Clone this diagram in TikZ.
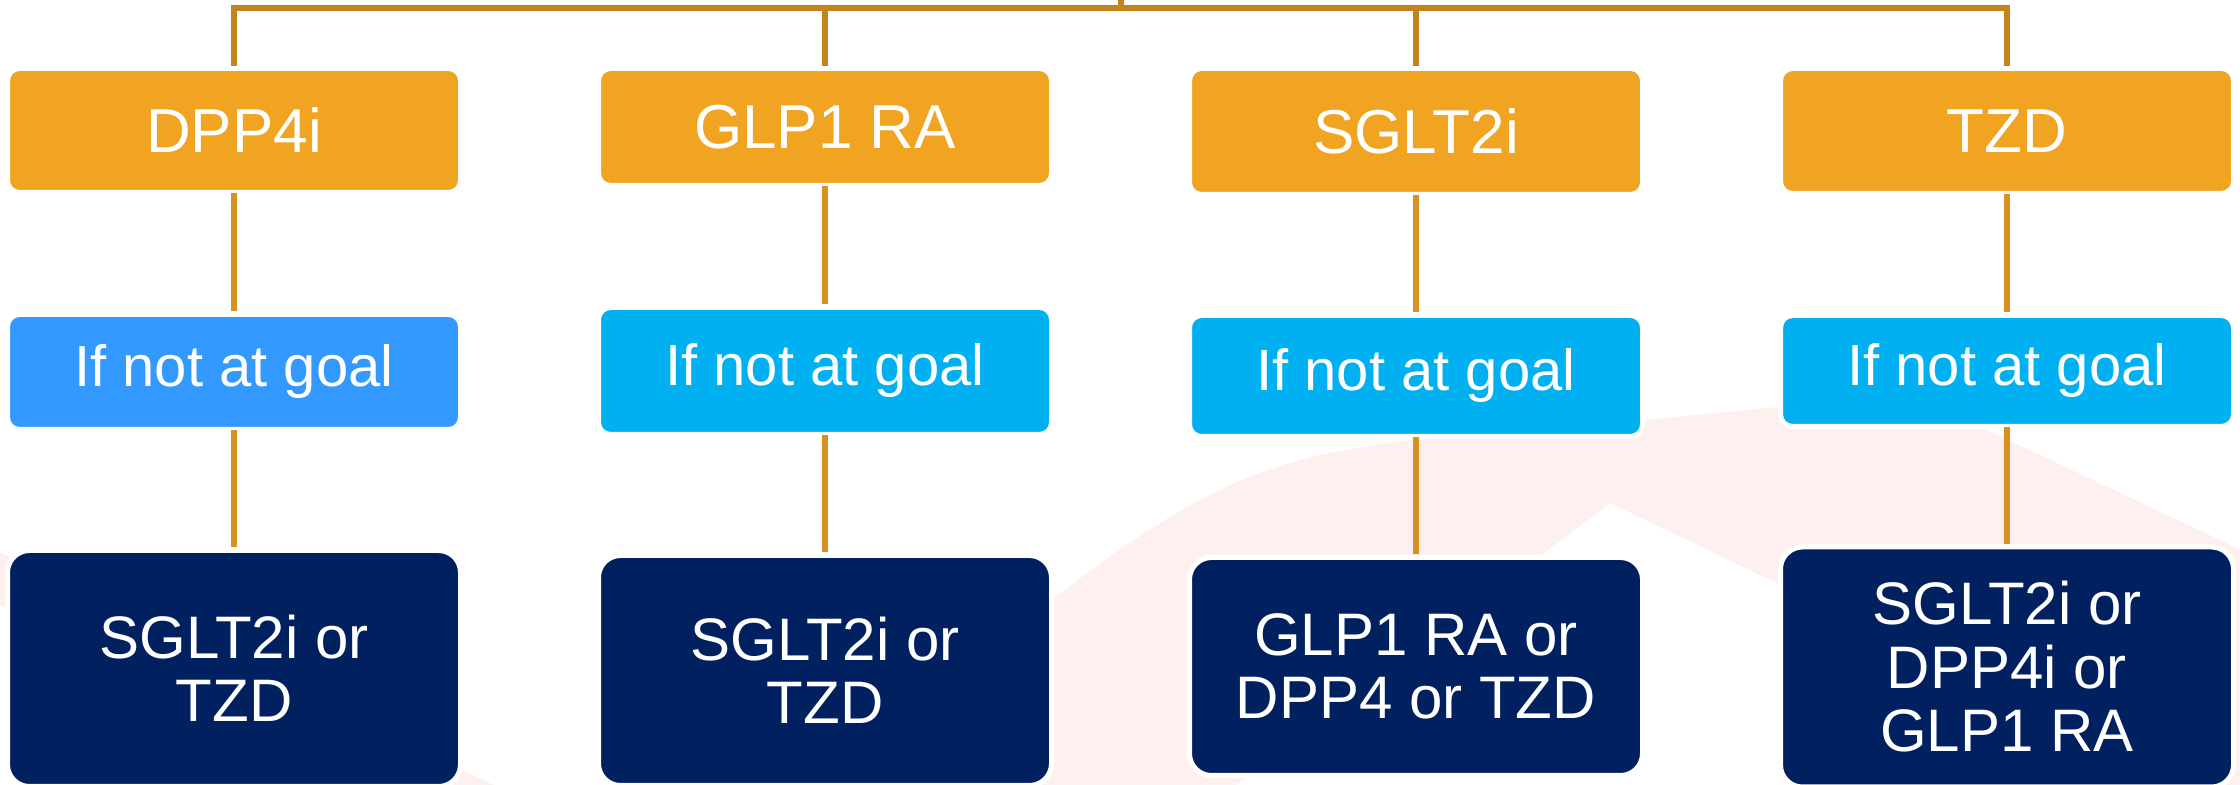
\documentclass[tikz,border=0pt]{standalone}
\usepackage{fontspec}
\setmainfont{Liberation Sans}
\definecolor{orangebox}{HTML}{F0A422}
\definecolor{bluefirst}{HTML}{3399FF}
\definecolor{bluebox}{HTML}{00B0F0}
\definecolor{navybox}{HTML}{002060}
\definecolor{linkcol}{HTML}{D99022}
\definecolor{bracketcol}{HTML}{C4841C}
\definecolor{pinkbg}{HTML}{FDF0EE}
\tikzset{
  box/.style={draw=white, line width=2.5pt, inner sep=0pt, outer sep=0pt,
    text=white, align=center, minimum width=226.5pt},
  drug/.style={box, fill=orangebox, rounded corners=6pt, font=\fontsize{31}{34}\selectfont},
  cond/.style={box, fill=bluebox, rounded corners=6pt, font=\fontsize{29}{32}\selectfont},
  nxt/.style={box, fill=navybox, rounded corners=11pt, font=\fontsize{30}{31.75}\selectfont},
  link/.style={draw=linkcol, line width=2.75pt, shorten <=0.5pt, shorten >=1.5pt},
  bracket/.style={draw=bracketcol, line width=2.75pt}
}
\begin{document}
\begin{tikzpicture}[x=0.5pt, y=-0.5pt]
\useasboundingbox (0,0) rectangle (2240,785);
\begin{scope}
\clip (0,0) rectangle (2240,785);
% faint background arrows
\fill[pinkbg] (820,800) -- (1055,597) .. controls (1150,525) and (1230,470) .. (1346,450)
  .. controls (1450,432) and (1600,422) .. (1645,420) -- (1911,394) -- (2260,559)
  -- (2260,815) -- (1610,503) -- (1216,800) -- cycle;
\fill[pinkbg] (-10,548) -- (530,802) -- (380,802) -- (-10,600) -- cycle;
\end{scope}

% row 1
\node[drug, minimum height=62pt]   (o1) at (234,130.5) {DPP4i};
\node[drug, minimum height=58.5pt] (o2) at (825,127)   {GLP1 RA};
\node[drug, minimum height=63pt]   (o3) at (1416,131.5) {SGLT2i};
\node[drug, minimum height=62.5pt] (o4) at (2007,131)  {TZD};
% row 2
\node[cond, fill=bluefirst, minimum height=57.5pt] (b1) at (234,372) {If not at goal};
\node[cond, minimum height=63.5pt] (b2) at (825,371)  {If not at goal};
\node[cond, minimum height=60.5pt] (b3) at (1416,376) {If not at goal};
\node[cond, minimum height=55.5pt] (b4) at (2007,371) {If not at goal};
% row 3
\node[nxt, minimum height=118pt]   (d1) at (234,668.5)  {SGLT2i or\\TZD};
\node[nxt, minimum height=115pt]   (d2) at (825,670.5)  {SGLT2i or\\TZD};
\node[nxt, minimum height=109pt]   (d3) at (1416,666.5) {GLP1 RA or\\DPP4 or TZD};
\node[nxt, minimum height=120pt]   (d4) at (2007,667)   {SGLT2i or\\DPP4i or\\GLP1 RA};

% top bracket
\coordinate (top) at (1121,0);
\coordinate (bar) at (1121,8);
\draw[bracket] (top) -- (bar);
\foreach \n in {o1,o2,o3,o4}
  \draw[bracket, shorten >=1.25pt] (bar) -| (\n.north);

% links
\foreach \i in {1,2,3,4} {
  \draw[link] (o\i) -- (b\i);
  \draw[link] (b\i) -- (d\i);
}
\end{tikzpicture}
\end{document}
